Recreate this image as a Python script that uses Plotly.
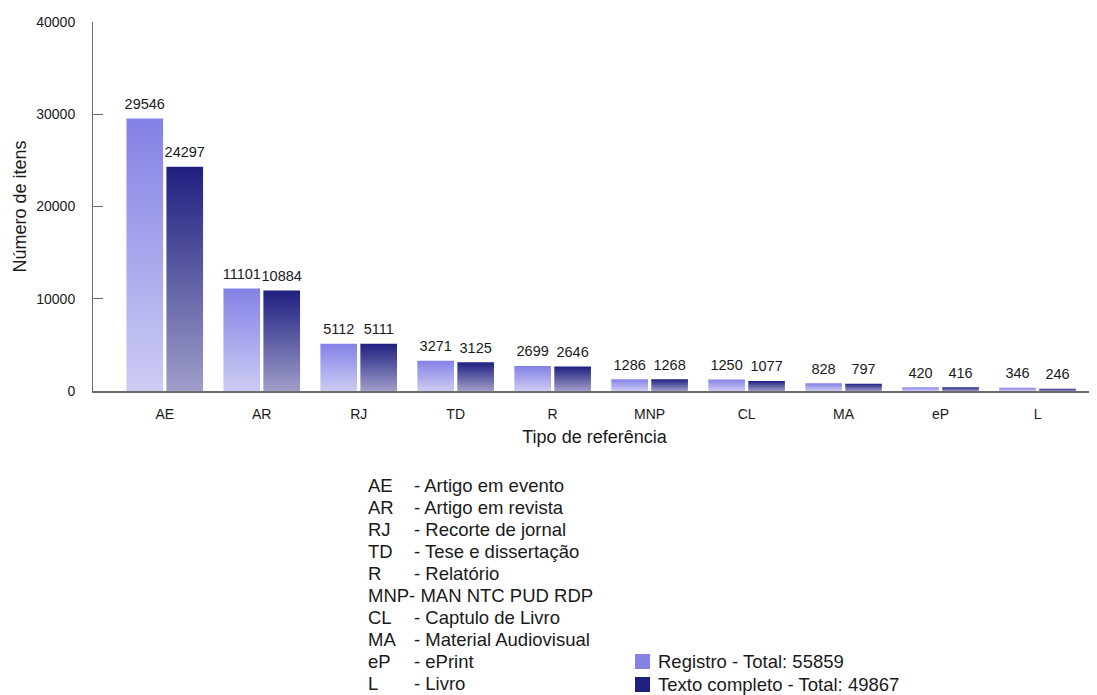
import plotly.graph_objects as go

categories = ["AE", "AR", "RJ", "TD", "R", "MNP", "CL", "MA", "eP", "L"]
descriptions = ["Artigo em evento", "Artigo em revista", "Recorte de jornal",
                "Tese e dissertação", "Relatório", "MAN NTC PUD RDP",
                "Captulo de Livro", "Material Audiovisual", "ePrint", "Livro"]
registro = [29546, 11101, 5112, 3271, 2699, 1286, 1250, 828, 420, 346]
texto_completo = [24297, 10884, 5111, 3125, 2646, 1268, 1077, 797, 416, 246]
series_names = ["Registro", "Texto completo"]
y_ticks = [0, 10000, 20000, 30000, 40000]

# the page is drawn with the browser's 8px body margin; compensate for it
OFF = 8
W, H = 1097 - OFF, 695 - OFF
ML, MR, MT, MB = 93 - OFF, 1, 22 - OFF, 304
PW, PH = W - ML - MR, H - MT - MB

def px_x(p):
    return (p - OFF - ML) / PW

def px_y(p):
    return (H - MB - (p - OFF)) / PH

FONT = "Liberation Sans, Arial, Helvetica, sans-serif"
TXT = "#1a1a1a"
AX = "#6b6b6b"
LEG_SIZE = 18.5

styles = [
    dict(solid="#8582e4", top="#8481e6", bottom="#cdccf3", offset=-0.206),
    dict(solid="#1f1f80", top="#1f1f80", bottom="#9f9ec9", offset=0.206),
]
bar_w = 0.378

fig = go.Figure()
x_idx = list(range(len(categories)))

for s, (name, vals) in enumerate(zip(series_names, [registro, texto_completo])):
    st = styles[s]
    for i, v in enumerate(vals):
        c = i + st["offset"]
        fig.add_trace(go.Scatter(
            x=[c - bar_w / 2, c + bar_w / 2, c + bar_w / 2, c - bar_w / 2, c - bar_w / 2],
            y=[0, 0, v, v, 0],
            mode="lines", fill="toself",
            line=dict(width=0, color=st["top"]),
            fillcolor=st["top"],
            fillgradient=dict(type="vertical",
                              colorscale=[[0, st["bottom"]], [1, st["top"]]]),
            name=name, legendgroup=name,
            hoverinfo="skip", showlegend=False,
        ))
    fig.add_trace(go.Scatter(
        x=[i + st["offset"] for i in x_idx], y=vals,
        mode="markers+text", text=[str(v) for v in vals],
        marker=dict(size=8, opacity=0),
        textposition="top center",
        textfont=dict(family=FONT, size=14.5, color=TXT),
        hoverinfo="skip", showlegend=False,
    ))

annotations = []
shapes = []
for k, (code, desc) in enumerate(zip(categories, descriptions)):
    yc = px_y(485 + 22 * k)
    if len(code) >= 3:
        annotations.append(dict(x=px_x(366), y=yc, xref="paper", yref="paper",
                                text=f"{code}- {desc}", showarrow=False,
                                xanchor="left", yanchor="middle",
                                font=dict(family=FONT, size=LEG_SIZE, color=TXT)))
    else:
        annotations.append(dict(x=px_x(366), y=yc, xref="paper", yref="paper",
                                text=code, showarrow=False,
                                xanchor="left", yanchor="middle",
                                font=dict(family=FONT, size=LEG_SIZE, color=TXT)))
        annotations.append(dict(x=px_x(412), y=yc, xref="paper", yref="paper",
                                text=f"- {desc}", showarrow=False,
                                xanchor="left", yanchor="middle",
                                font=dict(family=FONT, size=LEG_SIZE, color=TXT)))

# legend (series colour keys with totals)
for s, (name, vals) in enumerate(zip(series_names, [registro, texto_completo])):
    yc = 661.5 + 23 * s
    shapes.append(dict(type="rect", xref="paper", yref="paper",
                       x0=px_x(635), x1=px_x(650), y0=px_y(yc - 7.5), y1=px_y(yc + 7.5),
                       fillcolor=styles[s]["solid"], line=dict(width=0)))
    annotations.append(dict(x=px_x(656), y=px_y(yc), xref="paper", yref="paper",
                            text=f"{name} - Total: {sum(vals)}", showarrow=False,
                            xanchor="left", yanchor="middle",
                            font=dict(family=FONT, size=LEG_SIZE, color=TXT)))

fig.update_layout(
    width=W, height=H,
    margin=dict(l=ML, r=MR, t=MT, b=MB, pad=0, autoexpand=False),
    paper_bgcolor="white", plot_bgcolor="white",
    font=dict(family=FONT, size=14, color=TXT),
    annotations=annotations, shapes=shapes,
    showlegend=False,
    xaxis=dict(
        range=[-0.74, 9.603], tickmode="array", tickvals=x_idx, ticktext=categories,
        showgrid=False, zeroline=False, showline=True, linecolor=AX, linewidth=2,
        ticks="", tickfont=dict(family=FONT, size=14, color=TXT),
        ticklabelstandoff=9, automargin=False,
        title=dict(text="Tipo de referência", standoff=10,
                   font=dict(family=FONT, size=18, color=TXT)),
        fixedrange=True,
    ),
    yaxis=dict(
        range=[0, 40000], tickmode="array", tickvals=y_ticks,
        tickformat="d", showgrid=False, zeroline=False,
        showline=True, linecolor=AX, linewidth=1,
        ticks="inside", ticklen=10, tickcolor=AX, tickwidth=1,
        tickfont=dict(family=FONT, size=14, color=TXT),
        ticklabelstandoff=14, automargin=False,
        title=dict(text="Número de itens", standoff=4,
                   font=dict(family=FONT, size=18, color=TXT)),
        fixedrange=True,
    ),
)

fig.write_html("out.html")
